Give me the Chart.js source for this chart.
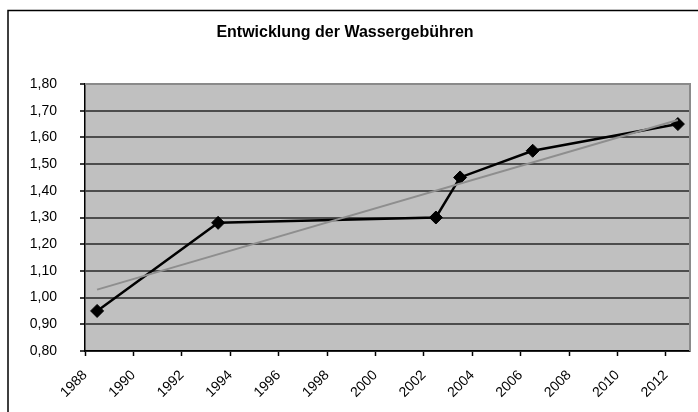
<!DOCTYPE html>
<html>
<head>
<meta charset="utf-8">
<title>Entwicklung der Wassergebühren</title>
<script src="https://cdn.jsdelivr.net/npm/chart.js@4/dist/chart.umd.min.js"></script>
<style>
    html, body { margin: 0; padding: 0; background: #fff; }
    #wrap { width: 698px; height: 412px; position: relative; }
</style>
</head>
<body>
<div id="wrap"><canvas id="chart" width="698" height="412"></canvas></div>
<script>
// Data
const years = [1988.5, 1993.5, 2002.5, 2003.5, 2006.5, 2012.5];
const fees = [0.95, 1.28, 1.30, 1.45, 1.55, 1.65];

// Linear trend line (end points)
const trendYears = [1988.5, 2012.5];
const trendFees = [1.03, 1.665];

const titleText = 'Entwicklung der Wassergebühren';
const font = '"Liberation Sans", Arial, sans-serif';

// Background of plot area and outer frame
const framePlugin = {
    id: 'frame',
    beforeDraw(chart) {
        const { ctx, chartArea: a } = chart;
        ctx.save();
        ctx.fillStyle = '#c0c0c0';
        ctx.fillRect(a.left, a.top, a.right - a.left, a.bottom - a.top);
        // outer chart border (left and top only visible)
        ctx.strokeStyle = '#000';
        ctx.lineWidth = 1.5;
        ctx.beginPath();
        ctx.moveTo(8, chart.height + 2);
        ctx.lineTo(8, 10.5);
        ctx.lineTo(chart.width + 2, 10.5);
        ctx.stroke();
        ctx.restore();
    },
    afterDatasetsDraw(chart) {
        const { ctx, chartArea: a } = chart;
        ctx.save();
        ctx.strokeStyle = '#8a8a8a';
        ctx.lineWidth = 2;
        ctx.beginPath();
        ctx.moveTo(a.left, a.top);
        ctx.lineTo(a.right, a.top);
        ctx.lineTo(a.right, a.bottom);
        ctx.stroke();
        ctx.restore();
    }
};

const ctx = document.getElementById('chart').getContext('2d');
new Chart(ctx, {
    type: 'scatter',
    data: {
        datasets: [
            {
                label: 'Trend',
                data: trendYears.map((x, i) => ({ x: x, y: trendFees[i] })),
                showLine: true,
                borderColor: '#8e8e8e',
                borderWidth: 2,
                pointRadius: 0
            },
            {
                label: 'Wassergebühren',
                data: years.map((x, i) => ({ x: x, y: fees[i] })),
                showLine: true,
                borderColor: '#000',
                backgroundColor: '#000',
                borderWidth: 2.5,
                pointStyle: 'rectRot',
                pointRadius: 6.5,
                pointBorderWidth: 1
            }
        ]
    },
    options: {
        responsive: false,
        animation: false,
        layout: {
            padding: { left: 0, right: 8, top: 0, bottom: 0 }
        },
        plugins: {
            legend: { display: false },
            tooltip: { enabled: false },
            title: {
                display: true,
                text: titleText,
                color: '#000',
                font: { family: font, size: 16, weight: 'bold' },
                padding: { top: 23, bottom: 41.8 }
            }
        },
        scales: {
            x: {
                type: 'linear',
                min: 1988,
                max: 2013,
                afterFit: scale => { scale.height = 61; },
                afterBuildTicks: scale => {
                    scale.ticks = scale.ticks.filter(t => t.value % 2 === 0);
                },
                ticks: {
                    stepSize: 2,
                    minRotation: 45,
                    maxRotation: 45,
                    autoSkip: false,
                    padding: 11,
                    color: '#000',
                    font: { family: font, size: 14 },
                    callback: value => String(value)
                },
                grid: {
                    drawOnChartArea: false,
                    drawTicks: true,
                    tickLength: 5,
                    tickColor: '#000',
                    tickWidth: 1.5
                },
                border: { color: '#000', width: 1.5 }
            },
            y: {
                min: 0.8,
                max: 1.8,
                afterFit: scale => { scale.width = 85; },
                ticks: {
                    stepSize: 0.1,
                    padding: 23,
                    color: '#000',
                    font: { family: font, size: 14 },
                    callback: value => value.toFixed(2).replace('.', ',')
                },
                grid: {
                    color: '#4d4d4d',
                    lineWidth: 2,
                    drawTicks: true,
                    tickLength: 5,
                    tickColor: '#000',
                    tickWidth: 1.5
                },
                border: { color: '#000', width: 1.5 }
            }
        }
    },
    plugins: [framePlugin]
});
</script>
</body>
</html>
